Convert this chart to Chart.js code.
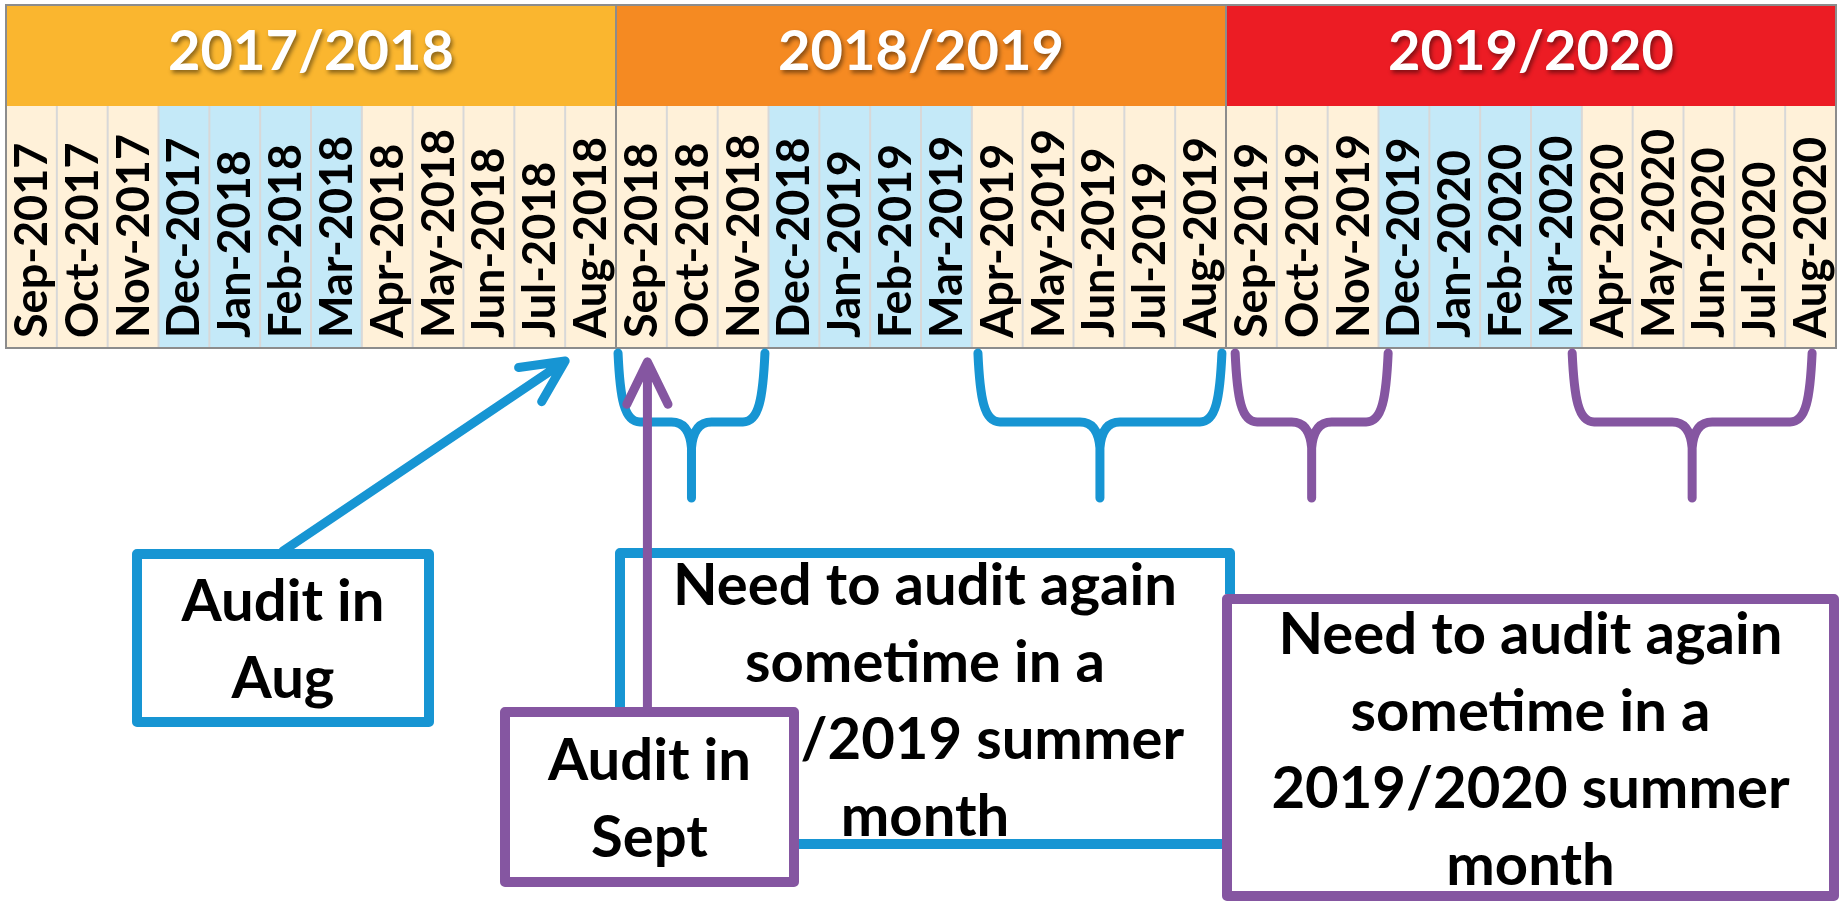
<!DOCTYPE html>
<html>
<head>
<meta charset="utf-8">
<title>Audit timeline</title>
<script src="https://cdn.jsdelivr.net/npm/chart.js@4.4.1/dist/chart.umd.min.js"></script>
<style>
  html, body { margin: 0; padding: 0; background: #ffffff; }
  #wrap { width: 1845px; height: 904px; position: relative; }
</style>
</head>
<body>
<div id="wrap"><canvas id="timelineChart"></canvas></div>
<script>
// Months in the timeline, one cell each
const months = [
    'Sep-2017', 'Oct-2017', 'Nov-2017', 'Dec-2017', 'Jan-2018', 'Feb-2018',
    'Mar-2018', 'Apr-2018', 'May-2018', 'Jun-2018', 'Jul-2018', 'Aug-2018',
    'Sep-2018', 'Oct-2018', 'Nov-2018', 'Dec-2018', 'Jan-2019', 'Feb-2019',
    'Mar-2019', 'Apr-2019', 'May-2019', 'Jun-2019', 'Jul-2019', 'Aug-2019',
    'Sep-2019', 'Oct-2019', 'Nov-2019', 'Dec-2019', 'Jan-2020', 'Feb-2020',
    'Mar-2020', 'Apr-2020', 'May-2020', 'Jun-2020', 'Jul-2020', 'Aug-2020'
];

// Academic years, 12 months each
const academicYears = ['2017/2018', '2018/2019', '2019/2020'];

// Winter months get the blue shading
const winterMonths = ['Dec', 'Jan', 'Feb', 'Mar'];

// Every month is one full-height cell
const cellValues = [
    1, 1, 1, 1, 1, 1, 1, 1, 1, 1, 1, 1,
    1, 1, 1, 1, 1, 1, 1, 1, 1, 1, 1, 1,
    1, 1, 1, 1, 1, 1, 1, 1, 1, 1, 1, 1
];

// Colours
const yearColors = ['#FAB62F', '#F58A22', '#EC1C24'];
const summerColor = '#FFF1D9';
const winterColor = '#C4E9F8';
const blue = '#1795D3';
const purple = '#8556A1';
const FONT = 'Lato, "Open Sans", sans-serif';

// Braces under the months (positions in month-index units, hand drawn)
const braces = [
    { start: 11.54, end: 14.43, color: blue },
    { start: 18.62, end: 23.42, color: blue },
    { start: 23.68, end: 26.69, color: purple },
    { start: 30.31, end: 35.03, color: purple }
];

// Call-out boxes
const boxes = [
    { x: 132, y: 549, w: 302, h: 178, color: blue, lines: ['Audit in', 'Aug'] },
    { x: 615, y: 548, w: 620, h: 301, color: blue,
      lines: ['Need to audit again', 'sometime in a', '2018/2019 summer', 'month'] },
    { x: 500, y: 707, w: 299, h: 180, color: purple, lines: ['Audit in', 'Sept'] },
    { x: 1222, y: 594, w: 617, h: 307, color: purple,
      lines: ['Need to audit again', 'sometime in a', '2019/2020 summer', 'month'] }
];

function drawBrace(ctx, x0, x1, top, bar, tip, color) {
    const xm = (x0 + x1) / 2;
    ctx.strokeStyle = color;
    ctx.lineWidth = 9;
    ctx.lineCap = 'round';
    ctx.lineJoin = 'round';
    ctx.beginPath();
    ctx.moveTo(x0, top);
    ctx.bezierCurveTo(x0 + 2, bar - 24, x0 + 6, bar, x0 + 22, bar);
    ctx.lineTo(xm - 20, bar);
    ctx.quadraticCurveTo(xm - 2, bar, xm, bar + 26);
    ctx.lineTo(xm, tip);
    ctx.moveTo(x1, top);
    ctx.bezierCurveTo(x1 - 2, bar - 24, x1 - 6, bar, x1 - 22, bar);
    ctx.lineTo(xm + 20, bar);
    ctx.quadraticCurveTo(xm + 2, bar, xm, bar + 26);
    ctx.stroke();
}

function drawArrow(ctx, fromX, fromY, toX, toY, color) {
    const ang = Math.atan2(fromY - toY, fromX - toX);
    const head = 47;
    const spread = 26 * Math.PI / 180;
    ctx.strokeStyle = color;
    ctx.lineWidth = 9;
    ctx.lineCap = 'round';
    ctx.beginPath();
    ctx.moveTo(fromX, fromY);
    ctx.lineTo(toX, toY);
    ctx.moveTo(toX + head * Math.cos(ang + spread), toY + head * Math.sin(ang + spread));
    ctx.lineTo(toX, toY);
    ctx.lineTo(toX + head * Math.cos(ang - spread), toY + head * Math.sin(ang - spread));
    ctx.stroke();
}

function drawBox(ctx, b) {
    ctx.fillStyle = '#ffffff';
    ctx.fillRect(b.x, b.y, b.w, b.h);
    ctx.strokeStyle = b.color;
    ctx.lineWidth = 10;
    ctx.lineJoin = 'round';
    ctx.strokeRect(b.x + 5, b.y + 5, b.w - 10, b.h - 10);
    ctx.fillStyle = '#000000';
    ctx.font = 'bold 58px ' + FONT;
    ctx.textAlign = 'center';
    ctx.textBaseline = 'middle';
    const lh = 77;
    const cy = b.y + b.h / 2 + 3 - (b.lines.length - 1) * lh / 2;
    b.lines.forEach((line, i) => ctx.fillText(line, b.x + b.w / 2, cy + i * lh));
}

// Draws the year header, cell grid, month labels and annotations
const timelinePlugin = {
    id: 'timeline',
    afterDraw(chart) {
        const ctx = chart.ctx;
        const area = chart.chartArea;
        const xs = chart.scales.x;
        const headerTop = 5;
        const edge = i => xs.getPixelForValue(i - 0.5);

        ctx.save();

        // thin grid between month cells
        ctx.strokeStyle = '#D8D8D8';
        ctx.lineWidth = 2;
        for (let i = 1; i < months.length; i++) {
            ctx.beginPath();
            ctx.moveTo(edge(i), area.top);
            ctx.lineTo(edge(i), area.bottom);
            ctx.stroke();
        }

        // academic year headers
        academicYears.forEach((yr, g) => {
            const x0 = edge(g * 12);
            const x1 = edge(g * 12 + 12);
            ctx.fillStyle = yearColors[g];
            ctx.fillRect(x0, headerTop, x1 - x0, area.top - headerTop);
            ctx.save();
            ctx.shadowColor = 'rgba(0,0,0,0.45)';
            ctx.shadowOffsetX = 2;
            ctx.shadowOffsetY = 3;
            ctx.shadowBlur = 4;
            ctx.fillStyle = '#ffffff';
            ctx.font = 'bold 56px ' + FONT;
            ctx.textAlign = 'center';
            ctx.textBaseline = 'middle';
            ctx.fillText(yr, (x0 + x1) / 2, 52);
            ctx.restore();
        });

        // section outlines
        ctx.strokeStyle = '#8C8C8C';
        ctx.lineWidth = 2;
        academicYears.forEach((yr, g) => {
            const x0 = edge(g * 12);
            const x1 = edge(g * 12 + 12);
            ctx.strokeRect(x0, headerTop, x1 - x0, area.bottom - headerTop);
        });

        // month labels
        ctx.fillStyle = '#000000';
        ctx.font = 'bold 45px ' + FONT;
        ctx.textAlign = 'left';
        ctx.textBaseline = 'middle';
        months.forEach((m, i) => {
            ctx.save();
            ctx.translate(xs.getPixelForValue(i) + 1, area.bottom - 10);
            ctx.rotate(-Math.PI / 2);
            ctx.fillText(m, 0, 0);
            ctx.restore();
        });

        // braces
        braces.forEach(b => {
            drawBrace(ctx, xs.getPixelForValue(b.start), xs.getPixelForValue(b.end),
                area.bottom + 5, area.bottom + 74, area.bottom + 150, b.color);
        });

        // Aug audit: arrow to the start of Aug-2018
        const augBox = boxes[0];
        drawArrow(ctx, augBox.x + augBox.w / 2, augBox.y + 2,
            xs.getPixelForValue(months.indexOf('Aug-2018') - 0.5), area.bottom + 13, blue);
        drawBox(ctx, boxes[0]);
        drawBox(ctx, boxes[1]);
        drawBox(ctx, boxes[2]);

        // Sept audit: arrow up to Sep-2018
        const sepBox = boxes[2];
        const sepX = xs.getPixelForValue(months.indexOf('Sep-2018')) + 6;
        drawArrow(ctx, sepX, sepBox.y + 2, sepX, area.bottom + 14, purple);
        drawBox(ctx, boxes[3]);

        ctx.restore();
    }
};

const ctx = document.getElementById('timelineChart').getContext('2d');
new Chart(ctx, {
    type: 'bar',
    data: {
        labels: months,
        datasets: [{
            label: 'Month',
            data: cellValues,
            backgroundColor: months.map(m => winterMonths.includes(m.slice(0, 3)) ? winterColor : summerColor),
            borderWidth: 0,
            barPercentage: 1,
            categoryPercentage: 1
        }]
    },
    options: {
        responsive: true,
        maintainAspectRatio: false,
        animation: false,
        layout: {
            padding: { left: 6, right: 9, top: 106, bottom: 556 }
        },
        plugins: {
            legend: { display: false },
            tooltip: { enabled: false }
        },
        scales: {
            x: { display: false },
            y: { display: false, min: 0, max: 1 }
        }
    },
    plugins: [timelinePlugin]
});
</script>
</body>
</html>
